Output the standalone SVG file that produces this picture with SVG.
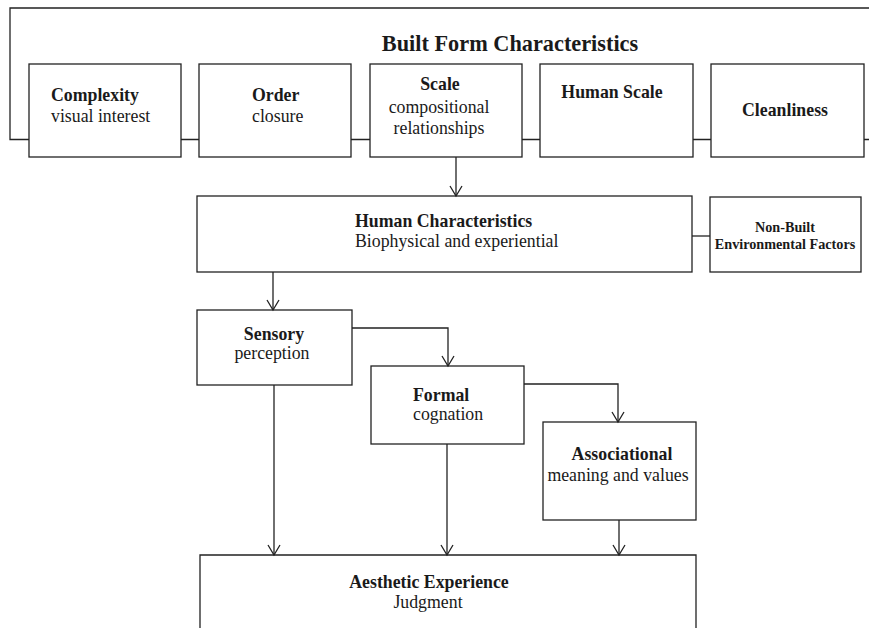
<svg xmlns="http://www.w3.org/2000/svg" width="869" height="628" viewBox="0 0 869 628">
<defs>
<style>
.box{fill:#fff;stroke:#222;stroke-width:1.3}
.ln{fill:none;stroke:#222;stroke-width:1.3}
text{font-family:"Liberation Serif","Times New Roman",serif;fill:#1a1a1a;text-anchor:middle}
.b{font-weight:bold;font-size:17.8px}
.r{font-size:17.8px}
.s{font-weight:bold;font-size:14.2px}
.l{text-anchor:start}
</style>
<marker id="ah" markerWidth="14" markerHeight="14" refX="11" refY="7" orient="auto" markerUnits="userSpaceOnUse" viewBox="0 0 14 14">
<path d="M1,1 L11,7 L1,13" fill="none" stroke="#222" stroke-width="1.3"/>
</marker>
</defs>
<rect width="869" height="628" fill="#fff"/>
<g id="frame">
<path class="ln" d="M880,8 L10,8 L10,139.5 L880,139.5"/>
<text class="b" x="510" y="51" style="font-size:22.3px">Built Form Characteristics</text>
</g>
<g id="complexity">
<rect class="box" x="29" y="64" width="152" height="93"/>
<text class="b l" x="51" y="101">Complexity</text>
<text class="r l" x="51" y="122">visual interest</text>
</g>
<g id="order">
<rect class="box" x="199" y="64" width="152" height="93"/>
<text class="b l" x="252" y="101">Order</text>
<text class="r l" x="252" y="122">closure</text>
</g>
<g id="scale">
<rect class="box" x="370" y="64" width="152" height="93"/>
<text class="b" x="440" y="90">Scale</text>
<text class="r" x="439" y="113">compositional</text>
<text class="r" x="439" y="134">relationships</text>
</g>
<g id="humanscale">
<rect class="box" x="540" y="64" width="153" height="93"/>
<text class="b" x="612" y="98">Human Scale</text>
</g>
<g id="cleanliness">
<rect class="box" x="711" y="64" width="153" height="93"/>
<text class="b" x="785" y="116">Cleanliness</text>
</g>
<g id="humanchar">
<rect class="box" x="197" y="196" width="495" height="76"/>
<text class="b l" x="355" y="227">Human Characteristics</text>
<text class="r l" x="355" y="247">Biophysical and experiential</text>
</g>
<g id="nonbuilt">
<rect class="box" x="710" y="197" width="151" height="75"/>
<text class="s" x="785" y="232">Non-Built</text>
<text class="s" x="785" y="249">Environmental Factors</text>
</g>
<g id="sensory">
<rect class="box" x="197" y="310" width="155" height="75"/>
<text class="b" x="274" y="340">Sensory</text>
<text class="r" x="272" y="359">perception</text>
</g>
<g id="formal">
<rect class="box" x="371" y="366" width="153" height="78"/>
<text class="b l" x="413" y="401">Formal</text>
<text class="r l" x="413" y="420">cognation</text>
</g>
<g id="associational">
<rect class="box" x="543" y="422" width="153" height="98"/>
<text class="b" x="622" y="460">Associational</text>
<text class="r" x="618" y="481">meaning and values</text>
</g>
<g id="aesthetic">
<path class="box" d="M200,640 L200,555 L696,555 L696,640"/>
<text class="b" x="429" y="588">Aesthetic Experience</text>
<text class="r" x="428" y="608">Judgment</text>
</g>
<g id="connectors">
<path class="ln" d="M456,157 L456,196" marker-end="url(#ah)"/>
<path class="ln" d="M692,236 L710,236"/>
<path class="ln" d="M273,272 L273,310" marker-end="url(#ah)"/>
<path class="ln" d="M352,328 L448,328 L448,366" marker-end="url(#ah)"/>
<path class="ln" d="M524,384 L618,384 L618,422" marker-end="url(#ah)"/>
<path class="ln" d="M274,385 L274,555" marker-end="url(#ah)"/>
<path class="ln" d="M447,444 L447,555" marker-end="url(#ah)"/>
<path class="ln" d="M619,520 L619,555" marker-end="url(#ah)"/>
</g>
</svg>
